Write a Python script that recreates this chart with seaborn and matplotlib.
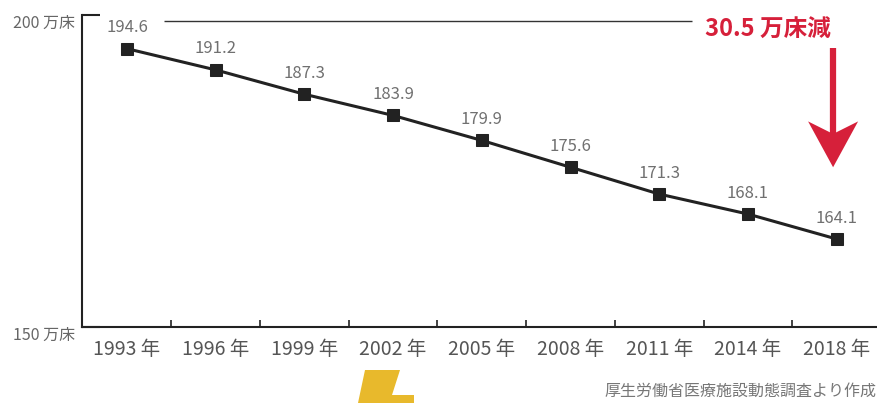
import numpy as np
import pandas as pd
import seaborn as sns
import matplotlib
matplotlib.use("Agg")
import matplotlib.pyplot as plt
from matplotlib.patches import Polygon

# 病床数の推移(万床)
years = ["1993", "1996", "1999", "2002", "2005", "2008", "2011", "2014", "2018"]
beds = [194.6, 191.2, 187.3, 183.9, 179.9, 175.6, 171.3, 168.1, 164.1]
y_ticks = [150, 200]
y_tick_labels = ["150 万床", "200 万床"]
decrease_label = "30.5 万床減"
source_note = "厚生労働省医療施設動態調査より作成"

sns.set_theme(style="white")
plt.rcParams["font.family"] = ["Noto Sans CJK JP", "DejaVu Sans"]

df = pd.DataFrame({"pos": np.arange(len(years)), "beds": beds})

fig = plt.figure(figsize=(8.77, 4.03), dpi=100)
ax = fig.add_axes([0.0935, 0.1886, 0.9065, 0.7742])

sns.lineplot(data=df, x="pos", y="beds", ax=ax, color="#222222", linewidth=2.2,
             marker="s", markersize=8, markeredgecolor="#222222",
             markerfacecolor="#222222")

for p, v in zip(df["pos"], df["beds"]):
    ax.annotate(f"{v:.1f}", (p, v), xytext=(0, 9), textcoords="offset points",
                ha="center", va="bottom", fontsize=12, color="#707070")

ax.set_xlim(-0.507, 8.455)
ax.set_ylim(150, 200)

# x axis: labels under each year, short marks between them
ax.set_xticks(df["pos"])
ax.set_xticklabels([f"{y} 年" for y in years], fontsize=14, color="#555555")
ax.tick_params(axis="x", which="major", length=0, pad=9)
ax.set_xticks(df["pos"][:-1] + 0.5, minor=True)
ax.tick_params(axis="x", which="minor", direction="in", length=5, width=1.2,
               color="#222222", bottom=True)

ax.set_yticks(y_ticks)
ax.set_yticklabels(y_tick_labels, fontsize=11.5, color="#666666", va="top")
ax.tick_params(axis="y", which="major", direction="in", length=13, width=1.5,
               color="#222222", pad=5, left=True)

ax.set_xlabel("")
ax.set_ylabel("")
for side in ["top", "right"]:
    ax.spines[side].set_visible(False)
for side in ["left", "bottom"]:
    ax.spines[side].set_color("#222222")
    ax.spines[side].set_linewidth(1.5)

# 減少幅の注記
red = "#d6203a"
ax.plot([0.42, 6.37], [199.0, 199.0], color="#333333", linewidth=1,
        solid_capstyle="butt")
ax.text(7.22, 197.6, decrease_label, ha="center", va="center", fontsize=17,
        fontweight="bold", color=red)

arrow_x, arrow_top, arrow_tip = 7.96, 194.7, 175.6
ax.plot([arrow_x, arrow_x], [arrow_top, arrow_tip + 3], color=red,
        linewidth=4.5, solid_capstyle="butt")
# 矢じり(先端からのポイント単位のオフセット)
head_pts = [(0, 0), (-18, 33), (0, 24), (18, 33)]
tip_disp = ax.transData.transform((arrow_x, arrow_tip))
head = Polygon([(tip_disp[0] + dx * fig.dpi / 72, tip_disp[1] + dy * fig.dpi / 72)
                for dx, dy in head_pts], closed=True, transform=None,
               facecolor=red, edgecolor="none")
fig.patches.append(head)

fig.text(0.999, 0.008, source_note, ha="right", va="bottom", fontsize=11.5,
         color="#777777")

# 下部の装飾
pts = [(365, 370), (400, 370), (392, 395), (414, 395), (414, 403), (358, 403)]
fig.patches.append(Polygon([(x / 877, 1 - y / 403) for x, y in pts],
                           closed=True, transform=fig.transFigure,
                           facecolor="#e8b92c", edgecolor="none"))

fig.savefig("out.png", dpi=100, facecolor="white")
